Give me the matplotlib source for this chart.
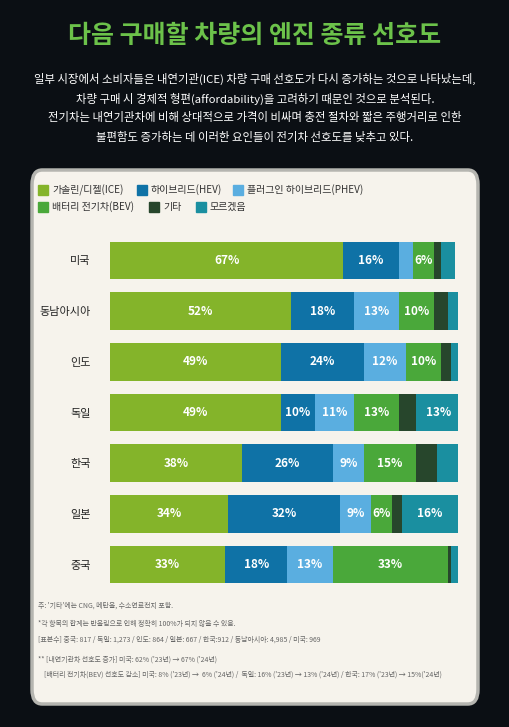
import matplotlib.pyplot as plt
from matplotlib.patches import FancyBboxPatch

plt.rcParams['font.family'] = ['Noto Sans CJK KR', 'DejaVu Sans']

countries = ["미국", "동남아시아", "인도", "독일", "한국", "일본", "중국"]
series_names = ["가솔린/디젤(ICE)", "하이브리드(HEV)", "플러그인 하이브리드(PHEV)",
                "배터리 전기차(BEV)", "기타", "모르겠음"]
ice = [67, 52, 49, 49, 38, 34, 33]
hev = [16, 18, 24, 10, 26, 32, 18]
phev = [4, 13, 12, 11, 9, 9, 13]
bev = [6, 10, 10, 13, 15, 6, 33]
other = [2, 4, 3, 5, 6, 3, 1]
unknown = [4, 3, 2, 13, 7, 16, 3]
shown = [
    [True] * 7,
    [True] * 7,
    [False, True, True, True, True, True, True],
    [True] * 7,
    [False] * 7,
    [False, False, False, True, False, True, False],
]
colors = ["#84b42a", "#0f72a6", "#5aaee0", "#4aa83a", "#27462c", "#1a8fa0"]

W, H = 510, 727
fig = plt.figure(figsize=(W / 100, H / 100), dpi=100)
fig.patch.set_facecolor("#0b0f14")

fig.text(0.5, 1 - 36 / H, "다음 구매할 차량의 엔진 종류 선호도", color="#6cc24a",
         fontsize=18, fontweight="bold", ha="center", va="center")
para = ["일부 시장에서 소비자들은 내연기관(ICE) 차량 구매 선호도가 다시 증가하는 것으로 나타났는데,",
        "차량 구매 시 경제적 형편(affordability)을 고려하기 때문인 것으로 분석된다.",
        "전기차는 내연기관차에 비해 상대적으로 가격이 비싸며 충전 절차와 짧은 주행거리로 인한",
        "불편함도 증가하는 데 이러한 요인들이 전기차 선호도를 낮추고 있다."]
for i, line in enumerate(para):
    fig.text(0.5, 1 - (79 + i * 19.5) / H, line, color="white", fontsize=8.2,
             ha="center", va="center")

panel = FancyBboxPatch((32 / W, 1 - 704 / H), 446 / W, 534 / H,
                       boxstyle="round,pad=0,rounding_size=0.02",
                       transform=fig.transFigure, facecolor="#f6f3ec",
                       edgecolor="#b5b5b0", linewidth=2.5, zorder=-5)
fig.patches.append(panel)

# legend
leg_pos = [(38, 190), (137, 190), (233, 190), (38, 207), (149, 207), (196, 207)]
for (x, y), name, c in zip(leg_pos, series_names, colors):
    fig.patches.append(plt.Rectangle((x / W, 1 - (y + 5) / H), 10 / W, 10 / H,
                                     transform=fig.transFigure, color=c, zorder=-4))
    fig.text((x + 14) / W, 1 - y / H, name, fontsize=7.2, color="#333333", va="center")

ax = fig.add_axes([110 / W, 1 - 590 / H, 348 / W, 355 / H])
ax.set_facecolor("none")
ax.set_zorder(2)
data = [ice, hev, phev, bev, other, unknown]
left = [0] * len(countries)
ypos = list(range(len(countries)))
for vals, c, sh in zip(data, colors, shown):
    ax.barh(ypos, vals, left=left, color=c, height=0.74)
    for i, v in enumerate(vals):
        if sh[i]:
            ax.text(left[i] + v / 2, i, f"{v}%", color="white", fontsize=8.5,
                    fontweight="bold", ha="center", va="center")
    left = [l + v for l, v in zip(left, vals)]
ax.set_xlim(0, 100)
ax.set_ylim(len(countries) - 0.5, -0.5)
ax.set_xticks([])
ax.set_yticks(ypos)
ax.set_yticklabels(countries, fontsize=8, color="#222222")
ax.tick_params(axis="y", length=0, pad=14)
for s in ax.spines.values():
    s.set_visible(False)

notes = [
    (606, "주: '기타'에는 CNG, 메탄올, 수소연료전지 포함."),
    (624, "*각 항목의 합계는 반올림으로 인해 정확히 100%가 되지 않을 수 있음."),
    (640, "[표본수] 중국: 817 / 독일: 1,273 / 인도: 864 / 일본: 667 / 한국:912 / 동남아시아: 4,985 / 미국: 969"),
    (660, "** [내연기관차 선호도 증가] 미국: 62% ('23년) → 67% ('24년)"),
    (675, "    [배터리 전기차(BEV) 선호도 감소] 미국: 8% ('23년) →  6% ('24년) /  독일: 16% ('23년) → 13% ('24년) / 한국: 17% ('23년) → 15%('24년)"),
]
for y, t in notes:
    fig.text(38 / W, 1 - y / H, t, fontsize=5, color="#666666", va="center")

fig.savefig("out.png", dpi=100, facecolor=fig.get_facecolor())
